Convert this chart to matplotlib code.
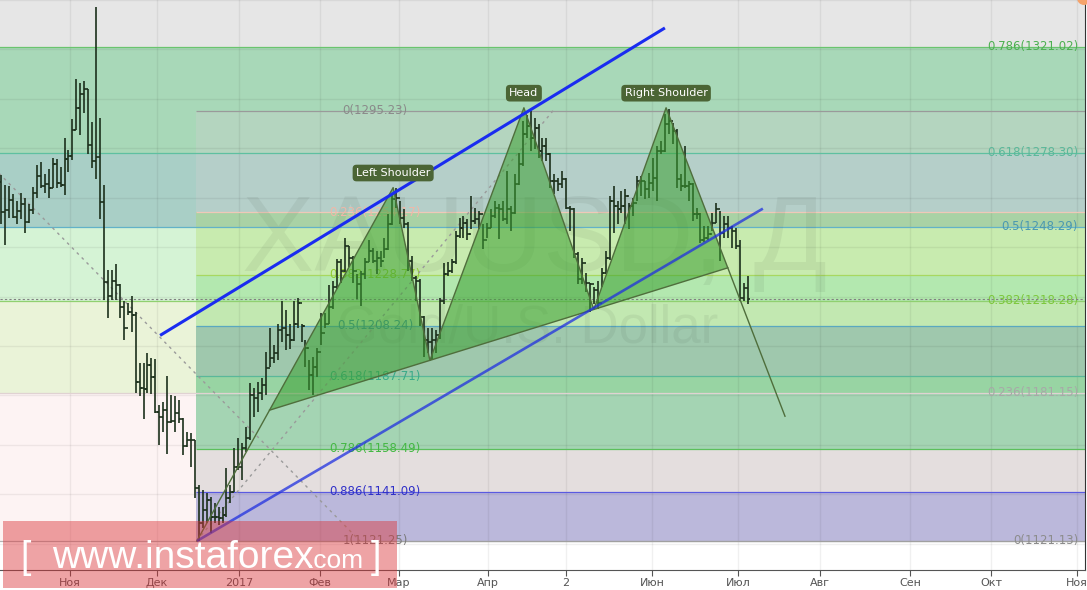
import numpy as np
import matplotlib.pyplot as plt
from matplotlib.patches import Polygon, Rectangle, Circle

plt.rcParams['font.family'] = ['DejaVu Sans']

# daily OHLC bars, XAUUSD
high = [
    1269.3, 1265.3, 1264.9, 1261.6, 1258.8, 1262.1, 1260.0, 1257.6, 1264.5, 1273.4,
    1274.6, 1269.7, 1271.7, 1276.2, 1275.8, 1272.5, 1284.3, 1279.4, 1291.9, 1308.1,
    1306.5, 1307.3, 1304.1, 1290.7, 1337.2, 1292.3, 1265.3, 1230.9, 1230.9, 1233.0,
    1225.0, 1218.4, 1217.6, 1220.4, 1213.6, 1193.0, 1193.0, 1197.0, 1195.0, 1194.6,
    1176.0, 1177.2, 1187.7, 1180.1, 1179.7, 1178.0, 1171.0, 1165.1, 1164.7, 1162.0,
    1143.7, 1141.7, 1140.5, 1138.9, 1136.4, 1134.8, 1134.8, 1150.6, 1143.7, 1158.7,
    1162.7, 1160.7, 1167.1, 1184.9, 1182.9, 1185.3, 1186.9, 1197.4, 1207.1, 1200.3,
    1209.1, 1218.4, 1214.4, 1209.1, 1218.4, 1219.6, 1209.1, 1202.3, 1194.2, 1195.4,
    1199.4, 1213.2, 1213.2, 1224.5, 1226.5, 1235.4, 1235.4, 1243.9, 1240.6, 1236.6,
    1229.3, 1230.5, 1235.8, 1242.7, 1239.8, 1238.6, 1238.6, 1243.9, 1253.6, 1261.6,
    1264.1, 1258.8, 1255.6, 1250.0, 1236.6, 1228.5, 1227.0, 1212.0, 1207.5, 1207.5,
    1206.3, 1219.6, 1233.4, 1233.8, 1235.4, 1246.7, 1252.0, 1252.8, 1251.5, 1260.8,
    1256.0, 1254.8, 1249.5, 1249.9, 1255.6, 1258.8, 1257.6, 1258.8, 1270.9, 1256.8,
    1269.7, 1278.2, 1291.1, 1293.5, 1295.2, 1292.3, 1289.9, 1284.3, 1284.3, 1278.0,
    1269.7, 1268.1, 1270.9, 1268.0, 1256.8, 1256.0, 1238.0, 1235.8, 1229.7, 1225.7,
    1223.7, 1226.5, 1231.4, 1238.6, 1260.8, 1264.9, 1258.8, 1262.9, 1263.7, 1258.0,
    1260.0, 1268.9, 1268.9, 1266.9, 1270.1, 1276.2, 1281.0, 1283.1, 1293.9, 1296.0,
    1290.3, 1288.0, 1269.7, 1281.0, 1266.9, 1266.0, 1256.0, 1254.0, 1248.7, 1248.7,
    1254.0, 1258.0, 1254.8, 1252.8, 1252.8, 1248.7, 1247.9, 1242.7, 1225.7, 1228.5,
]
low = [
    1249.5, 1241.0, 1251.9, 1251.9, 1249.5, 1251.5, 1245.9, 1249.9, 1253.6, 1260.0,
    1264.1, 1262.1, 1260.0, 1264.1, 1264.1, 1264.5, 1261.2, 1270.5, 1275.4, 1287.5,
    1285.5, 1294.4, 1277.8, 1272.1, 1267.7, 1251.5, 1218.8, 1211.2, 1218.8, 1218.8,
    1211.2, 1202.3, 1212.4, 1205.5, 1180.9, 1179.7, 1170.4, 1180.9, 1180.5, 1172.8,
    1159.9, 1165.1, 1156.2, 1168.8, 1165.1, 1168.8, 1155.8, 1159.1, 1151.0, 1138.5,
    1121.2, 1126.3, 1128.4, 1124.3, 1128.4, 1127.6, 1128.4, 1130.8, 1136.4, 1140.9,
    1149.8, 1145.7, 1157.0, 1161.9, 1171.2, 1173.2, 1178.0, 1180.1, 1191.4, 1193.0,
    1194.2, 1201.5, 1198.2, 1199.0, 1202.0, 1207.5, 1201.5, 1191.4, 1182.1, 1180.1,
    1187.3, 1200.3, 1207.5, 1209.0, 1215.0, 1223.0, 1225.7, 1230.0, 1231.8, 1225.7,
    1219.2, 1216.4, 1227.3, 1233.8, 1233.4, 1229.3, 1231.8, 1235.8, 1239.0, 1249.0,
    1256.0, 1249.5, 1247.9, 1230.5, 1226.5, 1218.4, 1208.3, 1195.4, 1197.0, 1194.5,
    1197.0, 1203.0, 1217.0, 1228.5, 1229.7, 1233.0, 1243.9, 1243.9, 1242.7, 1247.5,
    1249.5, 1247.5, 1239.4, 1243.9, 1247.9, 1252.0, 1243.5, 1250.7, 1249.5, 1246.7,
    1253.6, 1265.0, 1273.0, 1284.3, 1279.0, 1279.8, 1276.2, 1275.0, 1275.0, 1264.1,
    1261.6, 1262.9, 1264.1, 1255.6, 1246.7, 1235.8, 1225.3, 1225.3, 1221.7, 1213.6,
    1217.2, 1214.8, 1223.7, 1229.3, 1235.0, 1245.9, 1249.5, 1254.0, 1249.5, 1247.5,
    1252.8, 1258.8, 1260.8, 1259.6, 1260.0, 1262.9, 1258.8, 1277.8, 1278.5, 1285.9,
    1281.8, 1264.1, 1262.9, 1264.1, 1258.8, 1250.7, 1251.5, 1241.5, 1241.9, 1242.7,
    1246.7, 1249.9, 1234.6, 1243.9, 1243.9, 1239.8, 1239.4, 1218.4, 1218.4, 1217.2,
]
close = [
    1254.4, 1255.2, 1259.2, 1252.4, 1254.8, 1257.6, 1250.3, 1255.2, 1262.1, 1268.9,
    1264.9, 1265.7, 1264.1, 1273.8, 1266.1, 1265.3, 1275.8, 1277.0, 1287.5, 1296.4,
    1302.0, 1304.1, 1281.4, 1275.0, 1276.6, 1258.4, 1226.1, 1220.4, 1226.5, 1224.5,
    1215.6, 1207.1, 1213.6, 1212.4, 1185.3, 1182.9, 1182.5, 1192.2, 1187.3, 1173.2,
    1171.2, 1174.0, 1169.2, 1169.6, 1172.8, 1170.4, 1159.5, 1161.9, 1161.9, 1142.5,
    1128.4, 1133.6, 1137.7, 1130.8, 1130.8, 1130.4, 1131.6, 1138.5, 1140.9, 1151.0,
    1151.0, 1158.7, 1162.7, 1180.1, 1178.9, 1180.9, 1184.1, 1191.0, 1195.0, 1197.0,
    1206.3, 1207.5, 1204.3, 1202.3, 1209.1, 1217.6, 1208.3, 1199.4, 1188.1, 1191.4,
    1197.4, 1205.1, 1209.1, 1215.6, 1223.7, 1233.8, 1230.5, 1240.6, 1235.8, 1230.5,
    1225.3, 1229.3, 1233.8, 1238.6, 1234.6, 1235.8, 1234.6, 1239.4, 1249.5, 1259.6,
    1260.0, 1252.0, 1249.5, 1234.6, 1227.7, 1226.5, 1211.6, 1202.3, 1201.5, 1202.3,
    1204.3, 1218.4, 1229.3, 1230.5, 1233.8, 1244.7, 1247.9, 1249.9, 1245.5, 1250.7,
    1251.5, 1253.6, 1242.7, 1247.9, 1252.8, 1256.0, 1255.6, 1251.5, 1255.6, 1254.0,
    1265.7, 1273.8, 1285.9, 1289.1, 1284.3, 1288.3, 1279.0, 1281.0, 1277.8, 1266.9,
    1266.9, 1265.7, 1267.7, 1256.0, 1255.6, 1237.4, 1227.3, 1233.4, 1225.7, 1225.3,
    1222.5, 1217.6, 1229.7, 1235.8, 1258.8, 1256.8, 1255.6, 1256.8, 1260.8, 1256.8,
    1258.0, 1266.9, 1266.9, 1263.7, 1266.1, 1268.1, 1279.0, 1279.0, 1289.9, 1291.1,
    1287.1, 1267.7, 1264.9, 1264.9, 1265.7, 1253.6, 1253.6, 1242.7, 1243.9, 1245.5,
    1249.9, 1255.6, 1245.9, 1249.5, 1247.9, 1246.7, 1240.6, 1219.6, 1223.3, 1219.0,
]
open_ = [
    1266.5, 1254.4, 1255.2, 1259.2, 1252.4, 1254.8, 1257.6, 1250.3, 1255.2, 1262.1,
    1268.9, 1264.9, 1265.7, 1264.1, 1273.8, 1266.1, 1265.3, 1275.8, 1277.0, 1287.5,
    1296.4, 1302.0, 1304.1, 1281.4, 1275.0, 1276.6, 1258.4, 1226.1, 1220.4, 1226.5,
    1224.5, 1215.6, 1207.1, 1213.6, 1212.4, 1185.3, 1182.9, 1182.5, 1192.2, 1187.3,
    1173.2, 1171.2, 1174.0, 1169.2, 1169.6, 1172.8, 1170.4, 1159.5, 1161.9, 1161.9,
    1142.5, 1128.4, 1133.6, 1137.7, 1130.8, 1130.8, 1130.4, 1131.6, 1138.5, 1140.9,
    1151.0, 1151.0, 1158.7, 1162.7, 1180.1, 1178.9, 1180.9, 1184.1, 1191.0, 1195.0,
    1197.0, 1206.3, 1207.5, 1204.3, 1202.3, 1209.1, 1217.6, 1208.3, 1199.4, 1188.1,
    1191.4, 1197.4, 1205.1, 1209.1, 1215.6, 1223.7, 1233.8, 1230.5, 1240.6, 1235.8,
    1230.5, 1225.3, 1229.3, 1233.8, 1238.6, 1234.6, 1235.8, 1234.6, 1239.4, 1249.5,
    1259.6, 1260.0, 1252.0, 1249.5, 1234.6, 1227.7, 1226.5, 1211.6, 1202.3, 1201.5,
    1202.3, 1204.3, 1218.4, 1229.3, 1230.5, 1233.8, 1244.7, 1247.9, 1249.9, 1245.5,
    1250.7, 1251.5, 1253.6, 1242.7, 1247.9, 1252.8, 1256.0, 1255.6, 1251.5, 1255.6,
    1254.0, 1265.7, 1273.8, 1285.9, 1289.1, 1284.3, 1288.3, 1279.0, 1281.0, 1277.8,
    1266.9, 1266.9, 1265.7, 1267.7, 1256.0, 1255.6, 1237.4, 1227.3, 1233.4, 1225.7,
    1225.3, 1222.5, 1217.6, 1229.7, 1235.8, 1258.8, 1256.8, 1255.6, 1256.8, 1260.8,
    1256.8, 1258.0, 1266.9, 1266.9, 1263.7, 1266.1, 1268.1, 1279.0, 1279.0, 1289.9,
    1291.1, 1287.1, 1267.7, 1264.9, 1264.9, 1265.7, 1253.6, 1253.6, 1242.7, 1243.9,
    1245.5, 1249.9, 1255.6, 1245.9, 1249.5, 1247.9, 1246.7, 1240.6, 1219.6, 1223.3,
]

# month ticks (bar index)
month_pos = [17.4, 39.4, 60.2, 80.7, 100.7, 123.2, 143.0, 164.7, 186.5, 207.3, 230.0, 250.6, 272.3]
month_lbl = ['Ноя', 'Дек', '2017', 'Фев', 'Мар', 'Апр', '2', 'Июн', 'Июл', 'Авг', 'Сен', 'Окт', 'Ноя']

# fib retracement 1 (full width, labels on the right)
fib1_ratio = [0, 0.236, 0.382, 0.5, 0.618, 0.786, 1]
fib1_value = [1121.13, 1181.15, 1218.28, 1248.29, 1278.30, 1321.02, 1375.44]
fib1_anchor_x = [-65.4, 90.8]
fib1_band = ['#fdf3f3', '#eaf3d8', '#d5f3d5', '#a9cfc6', '#a8d8b8', '#e6e6e6']
fib1_line = ['#b4b4b4', '#e0d2d2', '#90d070', '#62b2c8', '#5ec0a0', '#6ac46e']
fib1_text = ['#8c8c8c', '#a8a8a8', '#7cc83c', '#4a98b0', '#5ab89a', '#4cb050']

# fib retracement 2 (from the December low)
fib2_ratio = [0, 0.236, 0.382, 0.5, 0.618, 0.786, 0.886, 1]
fib2_value = [1295.23, 1254.17, 1228.77, 1208.24, 1187.71, 1158.49, 1141.09, 1121.25]
fib2_anchor_x = [49.5, 139.7]
fib2_band = [(0.82, 0.82, 0.82, 0.30), (0.67, 0.86, 0.35, 0.30), (0.40, 0.81, 0.35, 0.30),
             (0.11, 0.49, 0.38, 0.36), (0.12, 0.65, 0.33, 0.40), (0.50, 0.55, 0.55, 0.20),
             (0.26, 0.29, 0.69, 0.35)]
fib2_line = ['#9a9a9a', '#f0c8b8', '#a8d860', '#5aa8c0', '#5ab89a', '#5cbf5c', '#5a5ae0', '#a0a0a0']
fib2_text = ['#8a8a8a', '#f0b8a8', '#90cc30', '#3f8f98', '#3aaa88', '#44b844', '#3030c8', '#7a7a7a']

# head and shoulders points: start, L shoulder, neck 1, head, neck 2, R shoulder, end
hs_x = [49.5, 99.2, 108.5, 132.3, 150.0, 168.3, 198.4]
hs_y = [1121.1, 1264.1, 1194.2, 1296.4, 1214.8, 1296.4, 1171.6]
hs_names = ['Left Shoulder', 'Head', 'Right Shoulder']

# trend lines
upper_x, upper_y = [40.2, 168.0], [1204.3, 1328.7]
lower_x, lower_y = [49.5, 192.8], [1121.1, 1255.6]

x_min, x_max = -0.33, 274.35
y_min, y_max = 1109.39, 1339.6

fig = plt.figure(figsize=(10.87, 5.90), dpi=100)
fig.patch.set_facecolor('white')
ax = fig.add_axes([0, 20 / 590, 1085 / 1087, 570 / 590])
ax.set_facecolor('white')
ax.set_xlim(x_min, x_max)
ax.set_ylim(y_min, y_max)

# fib 1 bands, lines and labels
for i in range(len(fib1_band)):
    ax.axhspan(fib1_value[i], fib1_value[i + 1], color=fib1_band[i], lw=0, zorder=0)
for i in range(len(fib1_ratio) - 1):
    ax.axhline(fib1_value[i], color=fib1_line[i], lw=0.9, zorder=1.6)
    ax.text(272.6, fib1_value[i], f"{fib1_ratio[i]:g}({fib1_value[i]:.2f})", ha='right', va='center',
            fontsize=8.5, color=fib1_text[i], zorder=2)

# fib 2 bands, lines and labels
f2x0 = 49.2
for i in range(len(fib2_band)):
    ax.fill_between([f2x0, x_max + 5], fib2_value[i + 1], fib2_value[i], color=fib2_band[i], lw=0, zorder=0.6)
ax.hlines(fib2_value, f2x0, x_max + 5, colors=fib2_line, lw=0.9, zorder=1.7)
f2mid = (fib2_anchor_x[0] + fib2_anchor_x[1]) / 2
for i in range(len(fib2_ratio)):
    ax.text(f2mid, fib2_value[i], f"{fib2_ratio[i]:g}({fib2_value[i]:.2f})", ha='center', va='center',
            fontsize=8.5, color=fib2_text[i], zorder=2)

# dotted diagonals of the fib tools
ax.plot(fib1_anchor_x, [fib1_value[-1], fib1_value[0]], color='#9a9a9a', lw=1, ls=(0, (2, 3)), zorder=2.5)
ax.plot(fib2_anchor_x, [fib2_value[-1], fib2_value[0]], color='#9a9a9a', lw=1, ls=(0, (2, 3)), zorder=2.5)

# grid
ax.set_xticks(month_pos)
ax.set_xticklabels(month_lbl)
ax.set_yticks(np.arange(1120, 1341, 20))
ax.set_axisbelow('line')
ax.grid(True, color='black', alpha=0.06, lw=1)
ax.tick_params(axis='x', direction='out', length=4, color='#555555', labelsize=8,
               labelcolor='#555555', pad=2)
ax.tick_params(axis='y', length=0, labelleft=False)
for s in ['top', 'left']:
    ax.spines[s].set_visible(False)
ax.spines['bottom'].set_color('#555555')
ax.spines['right'].set_color('#333333')

# watermark
ax.text(135.1, 1241.5, 'XAUUSD, Д', ha='center', va='center', fontsize=78,
        family='Liberation Sans', color='#3c4a3c', alpha=0.08, zorder=1.8)
ax.text(133.3, 1207.1, 'Gold/U.S. Dollar', ha='center', va='center', fontsize=38,
        family='Liberation Sans', color='#3c4a3c', alpha=0.08, zorder=1.8)

# last price line
ax.axhline(close[-1], color='#808080', lw=0.8, ls=(0, (2, 2)), zorder=2.2)

# OHLC bars
x = np.arange(len(high))
bar_c = '#1c301c'
ax.vlines(x, low, high, color=bar_c, lw=1.2, zorder=3)
ax.hlines(open_, x - 0.55, x, color=bar_c, lw=1.2, zorder=3)
ax.hlines(close, x, x + 0.55, color=bar_c, lw=1.2, zorder=3)


def cross(a1, a2, b1, b2):
    # intersection of line a1-a2 with line b1-b2
    (x1, y1), (x2, y2), (x3, y3), (x4, y4) = a1, a2, b1, b2
    d = (x1 - x2) * (y3 - y4) - (y1 - y2) * (x3 - x4)
    t = ((x1 - x3) * (y3 - y4) - (y1 - y3) * (x3 - x4)) / d
    return (x1 + t * (x2 - x1), y1 + t * (y2 - y1))


P = list(zip(hs_x, hs_y))
left_base = cross(P[0], P[1], P[2], P[4])
right_base = cross(P[5], P[6], P[2], P[4])
fill_c = (60 / 255, 160 / 255, 50 / 255, 0.55)
edge_c = '#4f6e3c'
for tri in [[left_base, P[1], P[2]], [P[2], P[3], P[4]], [P[4], P[5], right_base]]:
    ax.add_patch(Polygon(tri, closed=True, fc=fill_c, ec='none', zorder=4))
ax.plot(hs_x, hs_y, color=edge_c, lw=1, zorder=4.2)
ax.plot([left_base[0], right_base[0]], [left_base[1], right_base[1]], color=edge_c, lw=1, zorder=4.2)

for name, k in zip(hs_names, [1, 3, 5]):
    ax.annotate(name, xy=P[k], xytext=(0, 10.5), textcoords='offset points', ha='center', va='center',
                fontsize=8, color='white', zorder=7,
                bbox=dict(boxstyle='round,pad=0.3,rounding_size=0.35', fc='#4b6535', ec='none'))

# blue trend lines
ax.plot(upper_x, upper_y, color='#1a2cf0', lw=2.2, zorder=5, solid_capstyle='butt')
ax.plot(lower_x, lower_y, color='#2030e0', lw=1.9, alpha=0.75, zorder=5, solid_capstyle='butt')

# site watermark box
fig.add_artist(Rectangle((3 / 1087, 2 / 590), 394 / 1087, 67 / 590, transform=fig.transFigure,
                         fc=(0.86, 0.2, 0.22), alpha=0.45, ec='none', zorder=10))
fig.text(26 / 1087, 32 / 590, '[', ha='center', va='center', fontsize=27, color='white',
         family='Liberation Sans', zorder=11)
fig.text(52 / 1087, 22 / 590, 'www.instaforex', ha='left', va='baseline', fontsize=28, color='white',
         family='Liberation Sans', zorder=11)
fig.text(307 / 1087, 22 / 590, '.com', ha='left', va='baseline', fontsize=19, color='white',
         family='Liberation Sans', zorder=11)
fig.text(376 / 1087, 32 / 590, ']', ha='center', va='center', fontsize=27, color='white',
         family='Liberation Sans', zorder=11)

# small orange marker at the top right corner
fig.add_artist(Circle((10.84, 5.92), 0.07, transform=fig.dpi_scale_trans, fc='#f5a36b', ec='none', zorder=12))

fig.savefig('out.png', dpi=100)
